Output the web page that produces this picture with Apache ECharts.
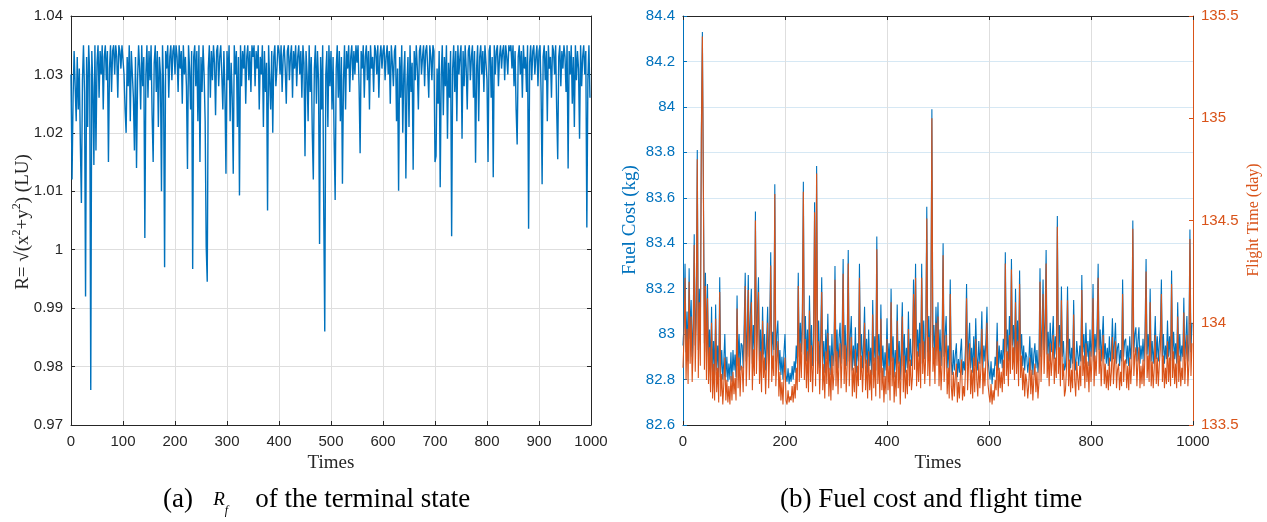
<!DOCTYPE html>
<html>
<head>
<meta charset="utf-8">
<script src="https://cdn.jsdelivr.net/npm/echarts@6/dist/echarts.min.js"></script>
<style>html,body{margin:0;padding:0;background:#fff}#c{width:1267px;height:522px}</style>
</head>
<body>
<div id="c"></div>
<script>
// Sample step of the runs (Times axis): 500 samples over 0..1000
const timeStep = 2;

// (a) R = sqrt(x^2+y^2) of the terminal state (LU)
const radiusValues = [
1.030,1.012,1.026,1.034,1.028,1.022,1.033,1.024,1.031,1.018,1.008,1.029,1.035,1.027,0.992,1.033,1.021,1.035,1.030,0.976,1.034,1.028,1.0145,1.035,1.017,
1.032,1.035,1.026,1.034,1.030,1.035,1.024,1.033,1.035,1.029,1.034,1.015,1.031,1.035,1.027,1.034,1.035,1.030,1.035,1.033,1.026,1.035,1.034,1.031,1.035,
1.035,1.030,1.024,1.020,1.033,1.028,1.035,1.022,1.034,1.030,1.026,1.017,1.033,1.014,1.029,1.035,1.031,1.024,1.035,1.028,1.033,1.002,1.030,1.035,1.026,
1.034,1.029,1.035,1.023,1.015,1.032,1.035,1.027,1.034,1.021,1.033,1.030,1.010,1.035,1.028,0.997,1.034,1.031,1.035,1.026,1.033,1.035,1.029,1.034,1.035,
1.030,1.035,1.033,1.027,1.035,1.031,1.034,1.025,1.035,1.030,1.033,1.028,1.0138,1.035,1.031,1.024,1.034,0.9967,1.033,1.035,1.028,1.034,1.022,1.035,1.015,
1.033,1.027,1.035,1.030,1.022,1.0005,0.9945,1.031,1.035,1.026,1.034,1.029,1.035,1.032,1.023,1.034,1.035,1.028,1.033,1.035,1.030,1.024,1.034,1.027,1.013,
1.034,1.029,1.035,1.022,1.032,1.026,1.013,1.035,1.030,1.034,1.021,1.033,1.0093,1.035,1.028,1.034,1.031,1.035,1.025,1.033,1.035,1.029,1.034,1.027,1.035,
1.033,1.035,1.028,1.034,1.031,1.035,1.024,1.033,1.030,1.035,1.021,1.034,1.027,1.032,1.0067,1.035,1.029,1.024,1.034,1.020,1.033,1.035,1.028,1.031,1.035,
1.034,1.030,1.035,1.027,1.033,1.035,1.031,1.025,1.034,1.035,1.029,1.033,1.035,1.026,1.034,1.031,1.035,1.028,1.033,1.035,1.030,1.034,1.026,1.035,1.032,
1.016,1.034,1.030,1.022,1.035,1.027,1.033,1.020,1.012,1.031,1.035,1.025,1.034,1.029,1.001,1.033,1.024,1.035,1.007,0.986,1.030,1.034,1.021,1.035,1.028,
1.034,1.024,1.033,1.019,1.0085,1.031,1.035,1.026,1.034,1.022,1.033,1.0113,1.029,1.035,1.024,1.034,1.031,1.035,1.027,1.033,1.035,1.029,1.034,1.030,1.035,
1.032,1.035,1.028,1.0165,1.034,1.031,1.035,1.026,1.033,1.035,1.029,1.034,1.024,1.035,1.031,1.033,1.027,1.035,1.034,1.030,1.035,1.026,1.033,1.035,1.031,
1.034,1.035,1.029,1.033,1.035,1.030,1.034,1.025,1.035,1.032,1.028,1.034,1.035,1.022,1.031,1.0101,1.033,1.026,1.035,1.020,1.030,1.034,1.0122,1.028,1.033,
1.021,1.035,1.027,1.032,1.0137,1.034,1.029,1.035,1.031,1.024,1.034,1.035,1.030,1.033,1.035,1.028,1.034,1.035,1.031,1.026,1.035,1.033,1.029,1.035,1.034,
1.015,1.016,1.031,1.025,1.034,1.0107,1.030,1.035,1.023,1.033,1.028,1.035,1.019,1.032,1.026,1.034,1.0023,1.031,1.035,1.027,1.034,1.022,1.035,1.030,1.033,
1.035,1.019,1.034,1.028,1.035,1.031,1.024,1.034,1.035,1.029,1.033,1.035,1.026,1.034,1.0149,1.031,1.035,1.022,1.033,1.035,1.030,1.034,1.027,1.035,1.032,
1.029,1.015,1.034,1.035,1.026,1.033,1.0124,1.035,1.030,1.034,1.035,1.028,1.033,1.035,1.031,1.034,1.035,1.029,1.035,1.033,1.030,1.035,1.034,1.035,1.031,
1.035,1.028,1.034,1.024,1.018,1.033,1.035,1.030,1.034,1.026,1.035,1.031,1.033,1.027,1.035,1.0036,1.032,1.035,1.029,1.034,1.035,1.030,1.033,1.035,1.028,
1.034,1.035,1.027,1.0112,1.033,1.035,1.029,1.034,1.022,1.035,1.031,1.033,1.026,1.035,1.034,1.030,1.035,1.024,1.0155,1.033,1.035,1.028,1.034,1.031,1.035,
1.033,1.027,1.035,1.0139,1.034,1.030,1.035,1.025,1.033,1.021,1.035,1.029,1.034,1.031,1.019,1.035,1.028,1.033,1.035,1.030,1.034,1.0038,1.029,1.035,1.026
];

// (b) Fuel cost (kg)
const fuelCost = [
82.95,83.05,83.31,82.92,83.10,82.88,83.29,82.98,83.15,82.90,83.05,83.44,82.95,83.12,83.81,82.93,83.20,82.98,83.90,84.33,83.66,82.96,83.27,82.92,83.22,
82.90,83.02,82.85,83.12,82.83,82.97,82.82,83.13,82.84,82.95,82.81,83.25,82.83,82.93,82.80,82.88,83.00,82.81,82.90,82.79,82.87,82.80,82.92,82.79,82.93,
82.84,82.91,82.81,83.17,82.86,83.00,82.84,82.96,82.95,82.85,83.05,83.27,82.88,83.02,83.26,82.90,83.08,83.20,82.87,83.04,82.92,83.54,82.93,83.10,83.25,
82.88,83.02,82.85,83.12,82.91,83.00,82.84,82.98,83.12,82.87,83.03,83.36,82.90,83.01,82.93,83.66,82.88,83.00,83.06,82.84,82.93,82.82,82.90,82.80,82.92,
83.00,82.82,82.79,82.85,82.78,82.83,82.79,82.86,82.80,82.88,82.83,82.95,82.87,83.27,82.90,83.05,82.92,83.10,83.67,82.91,83.08,82.88,83.02,82.86,83.17,
82.90,83.04,82.86,82.98,83.58,82.88,83.74,82.93,83.06,82.85,83.00,83.25,82.87,82.97,82.83,83.02,82.89,83.09,82.84,82.95,82.82,83.00,82.86,82.93,83.30,
82.88,83.02,82.85,82.98,83.05,82.87,83.00,83.33,82.89,83.04,82.86,82.97,83.37,82.88,82.99,83.08,82.84,82.95,82.86,83.03,82.83,82.96,82.88,83.31,82.90,
83.00,82.85,82.96,83.12,82.87,82.98,82.83,83.02,82.86,82.94,82.82,83.15,82.88,82.99,82.84,83.43,82.89,83.00,82.83,83.13,82.86,82.95,82.81,82.92,82.84,
83.07,82.86,82.96,82.82,83.20,82.88,82.99,82.81,82.93,82.84,83.13,82.87,82.97,82.80,82.95,83.14,82.86,83.00,82.83,82.94,82.85,83.10,82.88,82.98,82.86,
82.92,83.24,82.95,83.31,82.88,83.02,82.90,83.05,82.87,83.31,82.93,83.06,82.89,83.00,83.56,82.92,83.08,82.88,83.10,83.99,82.94,83.04,82.89,83.12,82.96,
83.14,82.88,83.02,82.86,82.97,83.40,82.90,83.00,83.08,82.85,82.95,82.83,83.24,82.88,82.82,82.93,82.84,82.91,82.96,82.81,82.89,82.83,82.92,82.98,82.82,
82.88,82.84,82.95,83.22,82.86,82.96,83.05,82.85,82.94,82.83,82.99,82.86,83.07,82.90,82.84,82.97,82.87,82.94,83.10,82.85,82.95,82.88,82.98,83.12,82.89,
82.84,82.80,82.88,82.78,82.85,82.81,82.90,82.86,83.05,82.84,82.95,82.87,82.93,82.85,82.98,82.89,83.36,82.92,83.02,82.88,83.08,82.93,83.33,82.95,83.04,
82.90,83.20,82.93,83.06,82.88,83.28,82.91,83.00,82.86,82.95,82.84,82.92,82.90,82.83,82.88,82.99,82.84,82.94,82.82,82.91,82.96,82.85,82.93,82.83,82.89,
83.29,82.90,83.02,83.24,82.93,83.06,83.37,82.91,83.01,82.88,83.05,82.92,82.98,83.08,82.89,82.99,82.91,83.52,82.93,83.04,82.88,83.21,82.90,82.97,82.84,
82.86,82.95,83.21,82.88,82.98,82.85,82.94,82.87,83.15,82.90,82.84,82.97,82.91,82.86,82.95,82.88,83.26,82.92,83.00,82.87,83.05,82.90,82.97,82.86,83.02,
82.90,82.98,83.22,82.88,83.00,82.92,83.04,83.31,82.93,83.02,82.88,82.98,83.08,82.89,82.96,82.87,82.94,82.86,82.99,82.88,82.93,83.07,82.89,82.96,83.05,
82.87,82.94,82.96,82.86,82.93,82.88,83.24,82.90,82.97,82.98,82.87,82.95,82.86,82.99,82.89,82.96,83.50,82.92,83.00,83.03,82.88,82.97,83.03,82.87,82.95,
82.89,82.98,82.88,83.02,83.33,82.91,83.00,82.90,83.20,82.88,82.97,82.87,82.95,83.08,82.89,82.99,82.88,82.96,83.02,83.24,82.90,83.00,82.87,82.95,82.89,
83.06,82.90,82.99,82.88,83.28,82.91,83.01,82.89,82.96,82.87,83.14,82.90,83.00,82.88,82.95,82.90,83.16,82.89,82.98,83.08,82.88,82.96,83.46,82.92,83.05
];

// (b) Flight time (day)
const flightTime = [
133.78,133.93,134.22,133.72,133.97,133.70,134.20,133.80,134.03,133.71,133.88,134.38,133.76,134.00,134.80,133.73,134.10,133.79,134.90,135.40,134.62,133.77,134.18,133.72,134.12,
133.70,133.88,133.66,134.00,133.63,133.80,133.62,134.02,133.66,133.78,133.61,134.15,133.64,133.75,133.60,133.70,133.83,133.62,133.72,133.61,133.69,133.60,133.74,133.62,133.76,
133.65,133.73,133.62,134.07,133.68,133.83,133.64,133.79,133.78,133.66,133.90,134.18,133.69,133.85,134.16,133.72,133.92,134.10,133.67,133.87,133.74,134.50,133.75,133.96,134.15,
133.70,133.86,133.66,134.01,133.73,133.83,133.65,133.81,134.00,133.68,133.87,134.28,133.71,133.84,133.74,134.63,133.69,133.82,133.91,133.64,133.76,133.62,133.71,133.60,133.74,
133.83,133.62,133.60,133.67,133.61,133.64,133.62,133.69,133.61,133.70,133.63,133.78,133.67,134.18,133.71,133.90,133.73,133.97,134.64,133.72,133.92,133.68,133.86,133.66,134.06,
133.71,133.89,133.66,133.81,134.54,133.69,134.73,133.75,133.91,133.65,133.84,134.15,133.67,133.80,133.63,133.86,133.70,133.95,133.64,133.78,133.62,133.84,133.67,133.75,134.21,
133.69,133.86,133.65,133.82,133.90,133.68,133.84,134.24,133.70,133.89,133.66,133.80,134.29,133.69,133.83,133.93,133.64,133.78,133.66,133.87,133.63,133.79,133.69,134.22,133.72,
133.84,133.66,133.79,134.00,133.67,133.82,133.63,133.86,133.67,133.77,133.62,134.04,133.68,133.83,133.64,134.36,133.70,133.84,133.63,134.02,133.67,133.78,133.61,133.74,133.65,
133.92,133.67,133.79,133.62,134.10,133.69,133.83,133.61,133.76,133.64,134.01,133.68,133.81,133.60,133.78,134.03,133.66,133.84,133.63,133.77,133.65,133.97,133.69,133.82,133.67,
133.74,134.14,133.77,134.22,133.69,133.86,133.71,133.90,133.68,134.22,133.75,133.91,133.70,133.84,134.51,133.74,133.93,133.69,133.96,135.00,133.76,133.88,133.70,134.00,133.79,
134.03,133.69,133.86,133.67,133.80,134.33,133.71,133.84,133.94,133.65,133.78,133.63,134.14,133.69,133.62,133.76,133.64,133.74,133.80,133.61,133.71,133.63,133.75,133.82,133.62,
133.69,133.64,133.78,134.12,133.67,133.80,133.90,133.65,133.77,133.63,133.83,133.66,133.92,133.72,133.64,133.81,133.68,133.77,133.97,133.65,133.78,133.69,133.82,134.00,133.70,
133.65,133.61,133.70,133.60,133.67,133.62,133.72,133.67,133.91,133.64,133.78,133.68,133.76,133.66,133.82,133.70,134.29,133.74,133.86,133.69,133.94,133.75,134.26,133.77,133.88,
133.72,134.10,133.75,133.91,133.69,134.19,133.73,133.84,133.67,133.78,133.64,133.75,133.71,133.63,133.70,133.83,133.65,133.77,133.62,133.73,133.80,133.66,133.76,133.63,133.71,
134.20,133.71,133.86,134.14,133.75,133.91,134.29,133.73,133.85,133.69,133.90,133.74,133.82,133.94,133.70,133.83,133.73,134.47,133.75,133.88,133.69,134.11,133.72,133.80,133.64,
133.67,133.78,134.11,133.69,133.82,133.66,133.77,133.68,134.04,133.72,133.64,133.81,133.73,133.67,133.79,133.69,134.16,133.74,133.84,133.68,133.90,133.71,133.81,133.66,133.86,
133.71,133.82,134.12,133.69,133.84,133.74,133.89,134.22,133.75,133.87,133.69,133.82,133.94,133.70,133.80,133.68,133.77,133.67,133.83,133.69,133.76,133.93,133.70,133.80,133.91,
133.68,133.77,133.80,133.67,133.76,133.69,134.14,133.71,133.81,133.82,133.68,133.79,133.67,133.83,133.70,133.80,134.46,133.74,133.84,133.88,133.69,133.81,133.88,133.68,133.79,
133.70,133.82,133.69,133.87,134.25,133.73,133.84,133.71,134.10,133.69,133.81,133.68,133.78,133.94,133.70,133.83,133.69,133.80,133.87,134.14,133.71,133.84,133.68,133.78,133.70,
133.91,133.71,133.83,133.69,134.19,133.73,133.86,133.70,133.80,133.68,134.03,133.71,133.84,133.69,133.78,133.72,134.05,133.70,133.82,133.94,133.69,133.80,134.41,133.74,133.90
];

const pair = arr => arr.map((v, i) => [i * timeStep, v]);

const AX = '#262626', BLUE = '#0072BD', ORANGE = '#D95319';
const GRIDGRAY = '#dedede', GRIDBLUE = '#d6e8f4';
const SANS = '"Liberation Sans", Arial, sans-serif';
const SERIF = '"Liberation Serif", "Times New Roman", serif';
const fmt = d => v => String(parseFloat(v.toFixed(d)));

function xAx(gridIndex, interval, top, showGrid) {
  return {
    type: 'value', gridIndex, min: 0, max: 1000, interval,
    position: top ? 'top' : 'bottom',
    axisLine: { show: true, onZero: false, lineStyle: { color: AX, width: 1 } },
    axisTick: { show: true, inside: true, length: 4, lineStyle: { color: AX } },
    axisLabel: { show: !top, color: AX, fontFamily: SANS, fontSize: 15, margin: 9, formatter: v => String(Math.round(v)) },
    splitLine: { show: showGrid, lineStyle: { color: GRIDGRAY, width: 1 } }
  };
}
function yAx(gridIndex, min, max, interval, right, color, labels, gridColor, dec) {
  return {
    type: 'value', gridIndex, min, max, interval,
    position: right ? 'right' : 'left',
    axisLine: { show: true, onZero: false, lineStyle: { color, width: 1 } },
    axisTick: { show: true, inside: true, length: 4, lineStyle: { color } },
    axisLabel: { show: labels, color, fontFamily: SANS, fontSize: 15, margin: 8, formatter: fmt(dec) },
    splitLine: { show: !!gridColor, lineStyle: { color: gridColor || GRIDGRAY, width: 1 } }
  };
}

const chart = echarts.init(document.getElementById('c'), null, { renderer: 'canvas' });
chart.setOption({
  animation: false,
  backgroundColor: '#fff',
  grid: [
    { left: 71, top: 16, width: 520, height: 409 },
    { left: 683, top: 16, width: 510, height: 409 }
  ],
  xAxis: [
    xAx(0, 100, false, true),
    xAx(0, 100, true, false),
    xAx(1, 200, false, true),
    xAx(1, 200, true, false)
  ],
  yAxis: [
    yAx(0, 0.97, 1.04, 0.01, false, AX, true, GRIDGRAY, 2),
    yAx(0, 0.97, 1.04, 0.01, true, AX, false, null, 2),
    yAx(1, 82.6, 84.4, 0.2, false, BLUE, true, GRIDBLUE, 1),
    yAx(1, 133.5, 135.5, 0.5, true, ORANGE, true, null, 1)
  ],
  series: [
    { type: 'line', xAxisIndex: 0, yAxisIndex: 0, data: pair(radiusValues), showSymbol: false,
      lineStyle: { color: BLUE, width: 1.4 }, itemStyle: { color: BLUE }, z: 3 },
    { type: 'line', xAxisIndex: 2, yAxisIndex: 2, data: pair(fuelCost), showSymbol: false,
      lineStyle: { color: BLUE, width: 1.1 }, itemStyle: { color: BLUE }, z: 3 },
    { type: 'line', xAxisIndex: 2, yAxisIndex: 3, data: pair(flightTime), showSymbol: false,
      lineStyle: { color: ORANGE, width: 1.1 }, itemStyle: { color: ORANGE }, z: 4 }
  ],
  graphic: [
    { type: 'text', x: 331, y: 463, style: { text: 'Times', font: '19px ' + SERIF, fill: AX, align: 'center', verticalAlign: 'middle' } },
    { type: 'text', x: 938, y: 463, style: { text: 'Times', font: '19px ' + SERIF, fill: AX, align: 'center', verticalAlign: 'middle' } },
    { type: 'text', x: 23, y: 222, rotation: Math.PI / 2,
      style: { text: 'R= √(x{sup|2}+y{sup|2}) (LU)', font: '19px ' + SERIF, fill: AX, align: 'center', verticalAlign: 'middle',
        lineHeight: 24,
        rich: { sup: { fontSize: 12, fontFamily: SERIF, fill: AX, verticalAlign: 'top', lineHeight: 24 } } } },
    { type: 'text', x: 630, y: 220, rotation: Math.PI / 2,
      style: { text: 'Fuel Cost (kg)', font: '19px ' + SERIF, fill: BLUE, align: 'center', verticalAlign: 'middle' } },
    { type: 'text', x: 1254, y: 220, rotation: Math.PI / 2,
      style: { text: 'Flight Time (day)', font: '16px ' + SERIF, fill: ORANGE, align: 'center', verticalAlign: 'middle' } },
    { type: 'text', x: 163, y: 500,
      style: { text: '(a)   {ri|R}{sub|f}    of the terminal state', font: '27px ' + SERIF, fill: '#000', align: 'left', verticalAlign: 'middle',
        lineHeight: 34,
        rich: {
          ri: { fontSize: 19, fontFamily: SERIF, fontStyle: 'italic', fill: '#000', lineHeight: 34 },
          sub: { fontSize: 12, fontFamily: SERIF, fontStyle: 'italic', fill: '#000', verticalAlign: 'bottom', lineHeight: 34 }
        } } },
    { type: 'text', x: 780, y: 500,
      style: { text: '(b) Fuel cost and flight time', font: '27px ' + SERIF, fill: '#000', align: 'left', verticalAlign: 'middle' } }
  ]
});
</script>
</body>
</html>
